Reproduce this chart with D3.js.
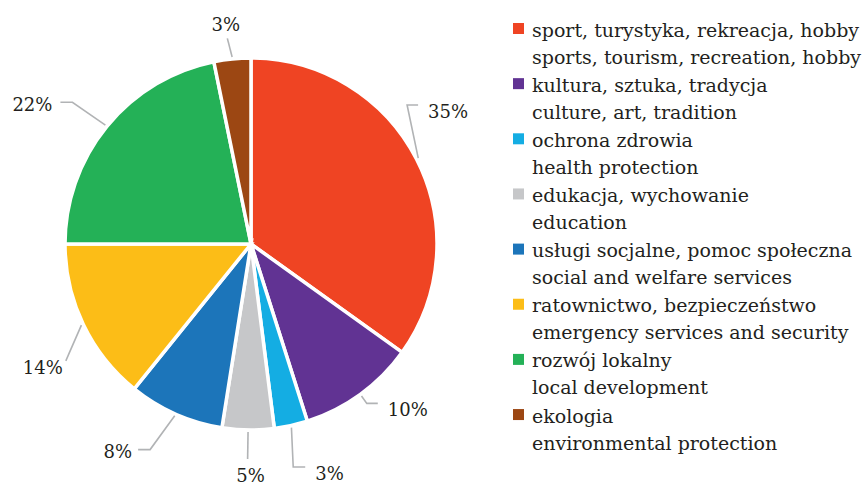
<!DOCTYPE html>
<html>
<head>
<meta charset="utf-8">
<script src="https://cdn.jsdelivr.net/npm/d3@7"></script>
<style>
  html, body { margin: 0; padding: 0; background: #fff; }
  svg { display: block; }
  text { font-family: "DejaVu Serif", serif; fill: #231f20; }
</style>
</head>
<body>
<svg id="chart" width="865" height="489"></svg>
<script>
// ---- data ----
const categoriesPL = [
  "sport, turystyka, rekreacja, hobby",
  "kultura, sztuka, tradycja",
  "ochrona zdrowia",
  "edukacja, wychowanie",
  "usługi socjalne, pomoc społeczna",
  "ratownictwo, bezpieczeństwo",
  "rozwój lokalny",
  "ekologia"
];
const categoriesEN = [
  "sports, tourism, recreation, hobby",
  "culture, art, tradition",
  "health protection",
  "education",
  "social and welfare services",
  "emergency services and security",
  "local development",
  "environmental protection"
];
const values = [34.9, 10.2, 2.9, 4.5, 8.3, 14.2, 21.8, 3.2];
const percentLabels = ["35%", "10%", "3%", "5%", "8%", "14%", "22%", "3%"];
const colors = ["#ef4423", "#613393", "#14ade3", "#c6c7c9", "#1c75ba", "#fcbd17", "#24b157", "#9c4713"];

// ---- layout (label leader geometry) ----
const labelLayout = [
  { dAng: -14.5, r: 209, h: 11,  side: "right", dx: 10, dy: 12.5 },
  { dAng: 0,     r: 197, h: 11,  side: "right", dx: 10, dy: 13 },
  { dAng: 1.7,   r: 227, h: 12,  side: "right", dx: 10, dy: 12.7 },
  { dAng: 0,     r: 215, h: 0,   side: "below", dx: 3,  dy: 23.5 },
  { dAng: 2.2,   r: 229, h: 12,  side: "left",  dx: -6, dy: 8.6 },
  { dAng: -6.7,  r: 219, h: 0,   side: "left",  dx: -3, dy: 13.5 },
  { dAng: -0.8,  r: 228, h: 12,  side: "left",  dx: -8, dy: 9 },
  { dAng: -0.8,  r: 207, h: 0,   side: "above", dx: -1.5, dy: -7 }
];

const svg = d3.select("#chart");
const cx = 251, cy = 244, R = 186;

const pie = d3.pie().sort(null).value(d => d);
const arcs = pie(values);
const arc = d3.arc().innerRadius(0).outerRadius(R);

const g = svg.append("g").attr("transform", `translate(${cx},${cy})`);

g.selectAll("path.slice")
  .data(arcs)
  .join("path")
  .attr("class", "slice")
  .attr("d", arc)
  .attr("fill", (d, i) => colors[i])
  .attr("stroke", "#fff")
  .attr("stroke-width", 3.5)
  .attr("stroke-linejoin", "miter");

// leader lines and labels
const polar = (ang, r) => [r * Math.sin(ang), -r * Math.cos(ang)];
arcs.forEach((d, i) => {
  const L = labelLayout[i];
  const mid = (d.startAngle + d.endAngle) / 2;
  const p0 = polar(mid, R + 2);
  const p1 = polar(mid + L.dAng * Math.PI / 180, L.r);
  const pts = [p0, p1];
  let tx, ty, anchor;
  if (L.side === "right") {
    const p2 = [p1[0] + L.h, p1[1]];
    if (L.h > 0) pts.push(p2);
    tx = p2[0] + L.dx; ty = p1[1] + L.dy; anchor = "start";
  } else if (L.side === "left") {
    const p2 = [p1[0] - L.h, p1[1]];
    if (L.h > 0) pts.push(p2);
    tx = p2[0] + L.dx; ty = p1[1] + L.dy; anchor = "end";
  } else {
    tx = p1[0] + L.dx; ty = p1[1] + L.dy; anchor = "middle";
  }
  g.append("path")
    .attr("d", d3.line()(pts))
    .attr("fill", "none")
    .attr("stroke", "#b1b3b5")
    .attr("stroke-width", 1.6);
  g.append("text")
    .attr("x", tx).attr("y", ty)
    .attr("text-anchor", anchor)
    .attr("font-size", 18)
    .text(percentLabels[i]);
});

// legend
const legend = svg.append("g").attr("transform", "translate(513,36.5)");
const step = 55.15;
categoriesPL.forEach((c, i) => {
  const y = i * step;
  legend.append("rect")
    .attr("x", 0).attr("y", y - 13.5)
    .attr("width", 11).attr("height", 11)
    .attr("fill", colors[i]);
  legend.append("text")
    .attr("x", 19).attr("y", y)
    .attr("font-size", 19)
    .text(c);
  legend.append("text")
    .attr("x", 19).attr("y", y + 27)
    .attr("font-size", 19)
    .text(categoriesEN[i]);
});
</script>
</body>
</html>
